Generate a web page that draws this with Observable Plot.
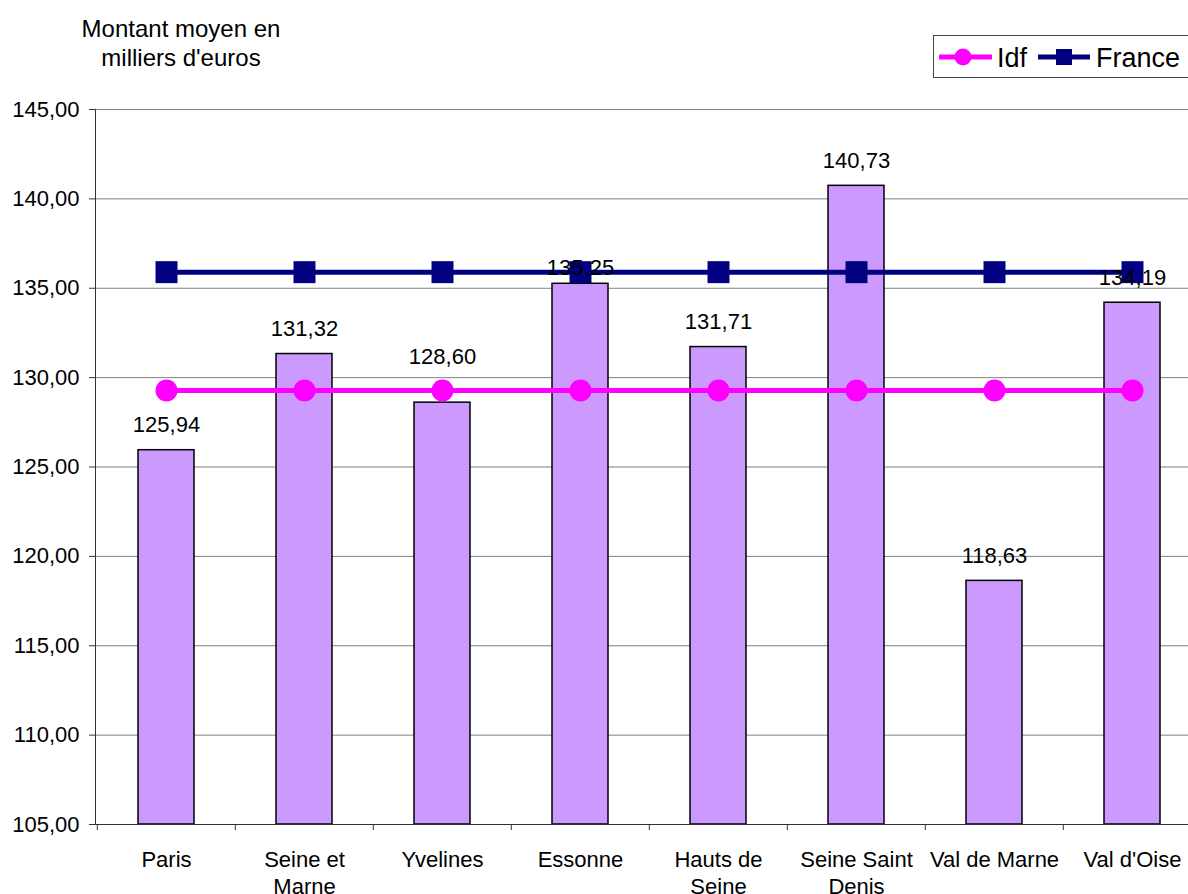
<!DOCTYPE html>
<html><head><meta charset="utf-8">
<script src="https://cdn.jsdelivr.net/npm/d3@7"></script>
<script src="https://cdn.jsdelivr.net/npm/@observablehq/plot@0.6"></script>
<style>
html,body{margin:0;padding:0;background:#fff;}
body{width:1188px;height:894px;overflow:hidden;position:relative;font-family:"Liberation Sans",Arial,sans-serif;}
#title{position:absolute;left:61px;top:14px;width:240px;text-align:center;font-size:24px;line-height:29px;color:#000;}
#legend{position:absolute;left:0;top:0;}
#chart{position:absolute;left:0;top:85px;}
</style></head>
<body>
<div id="title">Montant moyen en<br>milliers d'euros</div>
<svg id="legend" width="1188" height="85" font-family="Liberation Sans, Arial, sans-serif">
  <rect x="933.5" y="35.5" width="300" height="42" fill="#fff" stroke="#444" stroke-width="1"></rect>
  <line x1="939" x2="992" y1="57" y2="57" stroke="#FF00FF" stroke-width="5"></line>
  <circle cx="963" cy="57" r="8.5" fill="#FF00FF"></circle>
  <text x="997" y="67" font-size="27">Idf</text>
  <line x1="1038" x2="1090" y1="57" y2="57" stroke="#000080" stroke-width="5"></line>
  <rect x="1056" y="49" width="16" height="16" fill="#000080"></rect>
  <text x="1096" y="67" font-size="27">France</text>
</svg>
<div id="chart"></div>
<script>
const categories = ["Paris","Seine et Marne","Yvelines","Essonne","Hauts de Seine","Seine Saint Denis","Val de Marne","Val d'Oise"];
const tickLabels = ["Paris","Seine et\nMarne","Yvelines","Essonne","Hauts de\nSeine","Seine Saint\nDenis","Val de Marne","Val d'Oise"];
const montants = [125.94, 131.32, 128.60, 135.25, 131.71, 140.73, 118.63, 134.19];
const idf = [129.28, 129.28, 129.28, 129.28, 129.28, 129.28, 129.28, 129.28];
const france = [135.90, 135.90, 135.90, 135.90, 135.90, 135.90, 135.90, 135.90];
const yTicks = [105, 110, 115, 120, 125, 130, 135, 140, 145];

const data = categories.map((c, i) => ({cat: c, montant: montants[i], idf: idf[i], france: france[i]}));
const fmt = v => d3.format(".2f")(v).replace(".", ",");
const yMin = yTicks[0], yMax = yTicks[yTicks.length - 1];

const W = 1210, ML = 95, MR = 8;
const halfStep = (W - ML - MR) / categories.length / 2;
const raised = "Yvelines", lowered = "Essonne";
const labelOpts = {x: "cat", y: "montant", text: d => fmt(d.montant), lineAnchor: "bottom", fontSize: 22, fill: "#000"};

const chart = Plot.plot({
  width: W, height: 809,
  marginLeft: ML, marginRight: MR, marginTop: 24, marginBottom: 70,
  style: {fontFamily: "Liberation Sans, Arial, sans-serif", fontSize: "22px", color: "#000", background: "transparent"},
  x: {domain: categories, paddingInner: 0.595, paddingOuter: 0.2975, label: null},
  y: {domain: [yMin, yMax], label: null},
  marks: [
    Plot.gridY(yTicks, {stroke: "#808080", strokeOpacity: 1, strokeWidth: 1}),
    Plot.barY(data, {x: "cat", y1: () => yMin, y2: "montant", fill: "#CC99FF", stroke: "#000", strokeWidth: 1.5}),
    Plot.line(data, {x: "cat", y: "france", stroke: "#000080", strokeWidth: 5}),
    Plot.dot(data, {x: "cat", y: "france", symbol: "square", r: 12.4, fill: "#000080", stroke: "none"}),
    Plot.line(data, {x: "cat", y: "idf", stroke: "#FF00FF", strokeWidth: 5}),
    Plot.dot(data, {x: "cat", y: "idf", r: 11, fill: "#FF00FF", stroke: "none"}),
    Plot.axisY(yTicks, {tickFormat: fmt, tickSize: 6, tickPadding: 10, fontSize: 22, stroke: "#333", label: null}),
    Plot.axisX({tickSize: 6, text: null, dx: -halfStep, stroke: "#333", label: null}),
    Plot.axisX({tickSize: 0, tickPadding: 24, tickFormat: c => tickLabels[categories.indexOf(c)], lineHeight: 1.2, fontSize: 22, label: null}),
    Plot.frame({anchor: "left", stroke: "#333"}),
    Plot.frame({anchor: "bottom", stroke: "#333"}),
    Plot.text(data, {...labelOpts, filter: d => d.cat !== raised && d.cat !== lowered, dy: -18}),
    Plot.text(data, {...labelOpts, filter: d => d.cat === raised, dy: -39}),
    Plot.text(data, {...labelOpts, filter: d => d.cat === lowered, dy: -9})
  ]
});
chart.style.maxWidth = "none";
document.getElementById("chart").appendChild(chart);
</script>
</body></html>
